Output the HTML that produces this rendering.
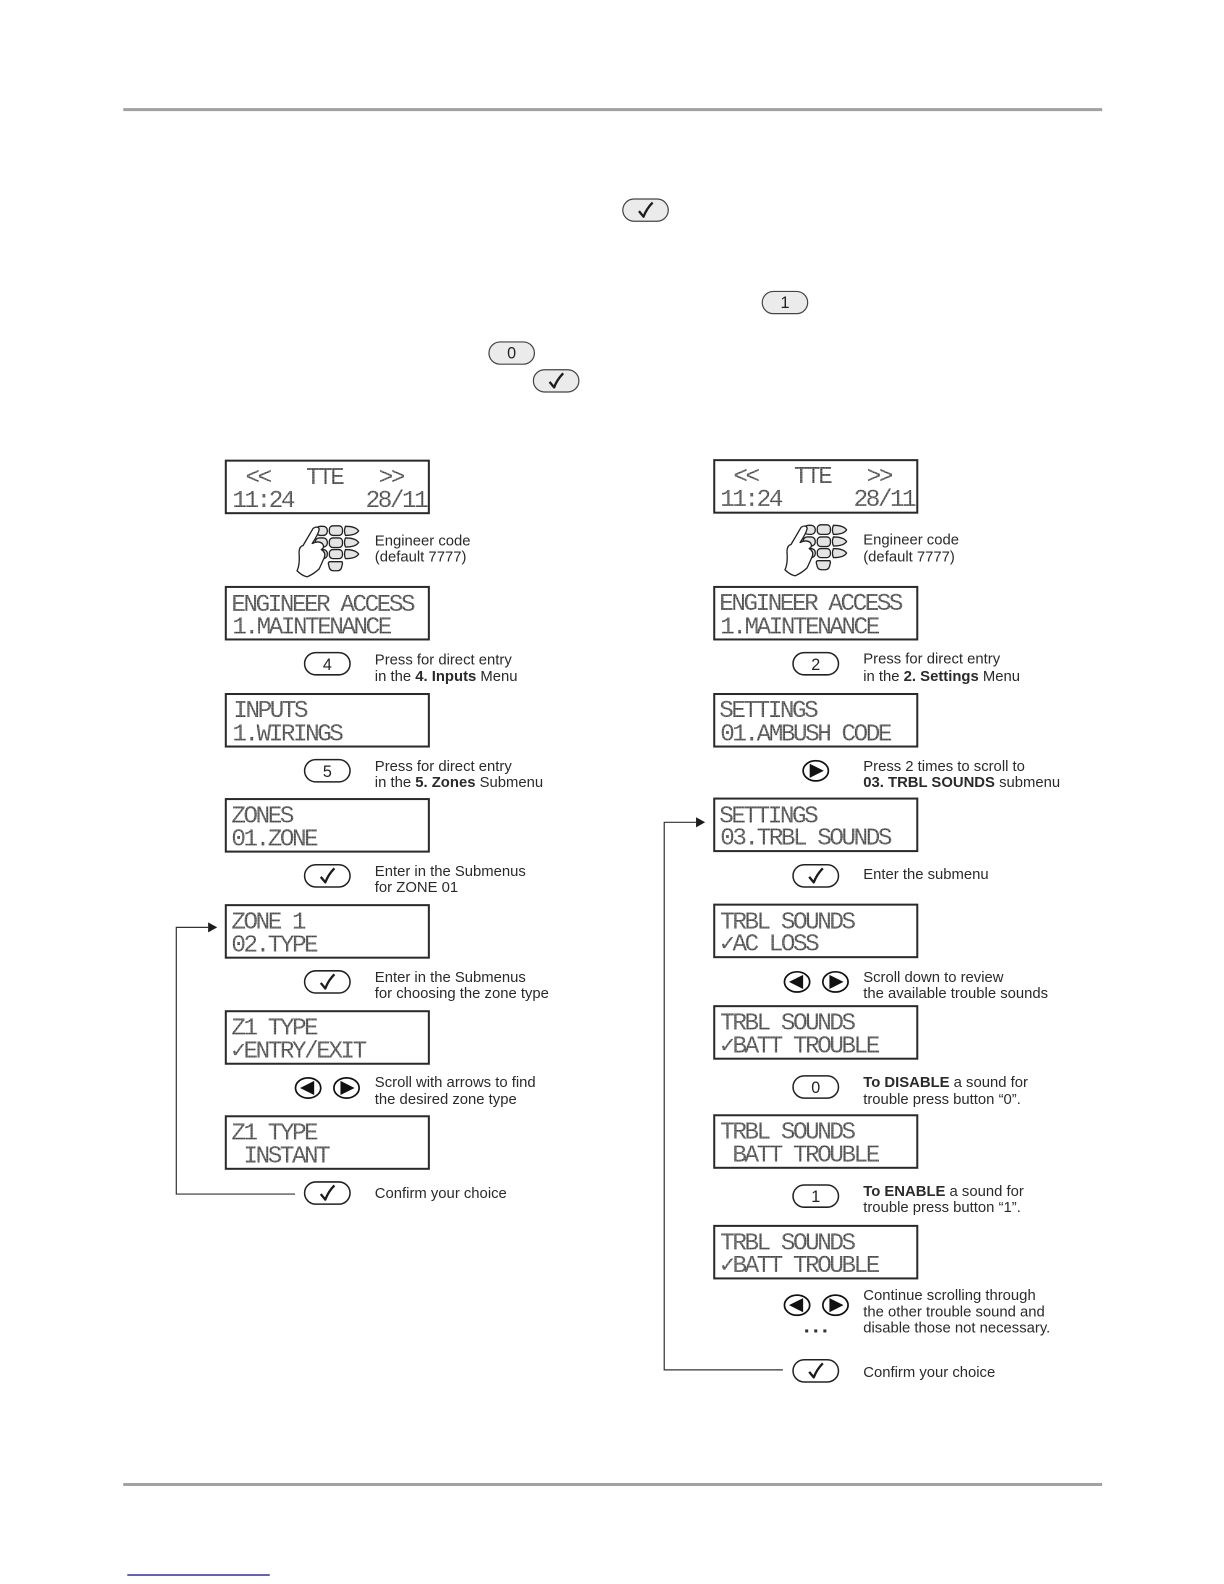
<!DOCTYPE html>
<html><head><meta charset="utf-8"><style>
html,body{margin:0;padding:0;background:#fff}
svg{display:block}
.t{font:14.7px "Liberation Sans",sans-serif;fill:#2a2a2a}
.b{font-weight:bold}
.l{font:24px "Liberation Mono",monospace;letter-spacing:-2.4px;fill:url(#dot);white-space:pre}
.n{font:16px "Liberation Sans",sans-serif;fill:#222;text-anchor:middle}
.box{fill:#fff;stroke:#2a2a2a;stroke-width:2}
.btn{stroke:#222;stroke-width:1.5;fill:#fff}
.g{fill:#ebebeb;stroke:#444;stroke-width:1.2}
</style></head><body>
<svg width="1224" height="1584" viewBox="0 0 1211.6 1568" xmlns="http://www.w3.org/2000/svg">
<defs>
<pattern id="dot" width="1.6" height="1.6" patternUnits="userSpaceOnUse"><rect width="1.6" height="1.6" fill="#8a8a8a"/><rect width="1.1" height="1.1" fill="#333"/></pattern>
<path id="ck" d="M-6.500 1 L-2 6.500 Q1 -1.500 7 -7.500" fill="none" stroke="#1c1c1c" stroke-width="2.300" stroke-linejoin="round"/>
<g id="kc"><rect class="btn" x="-22.500" y="-11" width="45" height="22" rx="11"/><use href="#ck"/></g>
<g id="gc"><rect class="g" x="-22.500" y="-11" width="45" height="22" rx="11"/><use href="#ck"/></g>
<g id="ar"><ellipse cx="0" cy="0" rx="12.500" ry="10" fill="#fff" stroke="#111" stroke-width="1.700"/><path d="M-6 -7 L8 0 L-6 7 Z" fill="#111"/></g>
<g id="al"><ellipse cx="0" cy="0" rx="12.500" ry="10" fill="#fff" stroke="#111" stroke-width="1.700"/><path d="M6 -7 L-8 0 L6 7 Z" fill="#111"/></g>
<g id="pad">
<g fill="#e4e4e4" stroke="#222" stroke-width="1.300">
<rect x="-20" y="-14" width="11" height="9" rx="4"/><rect x="-7" y="-14.500" width="13" height="9.500" rx="3.500"/><path d="M9 -14 q10 0 13 4.500 q-3 4.500 -13 4.500 q-2 -4.500 0 -9 Z"/>
<rect x="-21" y="-2.500" width="12" height="9" rx="4"/><rect x="-7" y="-2.500" width="13" height="9.500" rx="3.500"/><path d="M9 -2.500 q10 0 13 4.500 q-3 4.500 -13 4.500 q-2 -4.500 0 -9 Z"/>
<rect x="-20" y="9" width="11" height="9" rx="4"/><rect x="-7" y="9" width="13" height="9" rx="3.500"/><path d="M9 9 q10 0 13 4.500 q-3 4.500 -13 4.500 q-2 -4.500 0 -9 Z"/>
<path d="M-6 21 h11 q1 0 1 2 l-1 4 q-1 3 -4 3 h-4 q-3 0 -4 -3 l-1 -4 q0 -2 2 -2 Z"/>
</g>
<path d="M-23 -12 Q-18 -15 -17 -11 Q-18 -6 -24 3 Q-18 0 -14 3 Q-11 7 -15 9 Q-10 12 -12 17 L-17 28 Q-22 33 -29 36 Q-34 35 -39 30 Q-36 24 -37 12 Q-37 6 -33 5 Z" fill="#fff" stroke="#222" stroke-width="1.300" stroke-linejoin="round"/>
</g>
<path id="head" d="M0 -5 L9 0 L0 5 Z" fill="#1c1c1c"/>
</defs>
<rect width="1212" height="1568" fill="#fff"/>
<rect x="122" y="107" width="969" height="3" fill="#a2a2a2"/>
<rect x="122" y="1468" width="969" height="3" fill="#a2a2a2"/>
<rect x="126" y="1558.500" width="141" height="1.200" fill="#000080"/>

<use href="#gc" x="639" y="208"/>
<g><rect class="g" x="754.500" y="288.500" width="45" height="22" rx="11"/><text class="n" x="777" y="305">1</text></g>
<g><rect class="g" x="484" y="338.500" width="45" height="22" rx="11"/><text class="n" x="506.500" y="355">0</text></g>
<use href="#gc" x="550.500" y="377"/>

<!-- left column -->
<g>
<rect class="box" x="223.500" y="456" width="201" height="52"/>
<text class="l" x="231" y="479"> &lt;&lt;   TTE   &gt;&gt;</text><text class="l" x="230" y="502">11:24      28/11</text>
<rect class="box" x="223.500" y="581" width="201" height="52"/>
<text class="l" x="229" y="605">ENGINEER ACCESS</text><text class="l" x="230" y="627">1.MAINTENANCE</text>
<rect class="box" x="223.500" y="687" width="201" height="52"/>
<text class="l" x="231" y="710">INPUTS</text><text class="l" x="230" y="733">1.WIRINGS</text>
<rect class="box" x="223.500" y="791" width="201" height="52"/>
<text class="l" x="229" y="814">ZONES</text><text class="l" x="229" y="837">01.ZONE</text>
<rect class="box" x="223.500" y="896" width="201" height="52"/>
<text class="l" x="229" y="919">ZONE 1</text><text class="l" x="229" y="942">02.TYPE</text>
<rect class="box" x="223.500" y="1001" width="201" height="52"/>
<text class="l" x="229" y="1024">Z1 TYPE</text><text class="l" x="229" y="1047">✓ENTRY/EXIT</text>
<rect class="box" x="223.500" y="1105" width="201" height="52"/>
<text class="l" x="229" y="1128">Z1 TYPE</text><text class="l" x="229" y="1151"> INSTANT</text>
</g>
<use href="#pad" x="333" y="535"/>
<g><rect class="btn" x="301.500" y="646" width="45" height="22" rx="11"/><text class="n" x="324" y="663">4</text></g>
<g><rect class="btn" x="301.500" y="752" width="45" height="22" rx="11"/><text class="n" x="324" y="769">5</text></g>
<use href="#kc" x="324" y="867"/>
<use href="#kc" x="324" y="972"/>
<use href="#al" x="305" y="1077"/><use href="#ar" x="343" y="1077"/>
<use href="#kc" x="324" y="1181"/>
<path d="M292 1182 H174.500 V918 H206" fill="none" stroke="#333" stroke-width="1.200"/>
<use href="#head" x="206" y="918"/>

<text class="t" x="371" y="540">Engineer code</text><text class="t" x="371" y="556">(default 7777)</text>
<text class="t" x="371" y="658">Press for direct entry</text><text class="t" x="371" y="674">in the <tspan class="b">4. Inputs</tspan> Menu</text>
<text class="t" x="371" y="763">Press for direct entry</text><text class="t" x="371" y="779">in the <tspan class="b">5. Zones</tspan> Submenu</text>
<text class="t" x="371" y="867">Enter in the Submenus</text><text class="t" x="371" y="883">for ZONE 01</text>
<text class="t" x="371" y="972">Enter in the Submenus</text><text class="t" x="371" y="988">for choosing the zone type</text>
<text class="t" x="371" y="1076">Scroll with arrows to find</text><text class="t" x="371" y="1093">the desired zone type</text>
<text class="t" x="371" y="1186">Confirm your choice</text>

<!-- right column -->
<g>
<rect class="box" x="707" y="455.500" width="201" height="52"/>
<text class="l" x="714" y="478"> &lt;&lt;   TTE   &gt;&gt;</text><text class="l" x="713" y="501">11:24      28/11</text>
<rect class="box" x="707" y="581" width="201" height="52"/>
<text class="l" x="712" y="604">ENGINEER ACCESS</text><text class="l" x="713" y="627">1.MAINTENANCE</text>
<rect class="box" x="707" y="687" width="201" height="52"/>
<text class="l" x="712" y="710">SETTINGS</text><text class="l" x="713" y="733">01.AMBUSH CODE</text>
<rect class="box" x="707" y="790.500" width="201" height="52"/>
<text class="l" x="712" y="814">SETTINGS</text><text class="l" x="713" y="836">03.TRBL SOUNDS</text>
<rect class="box" x="707" y="895.500" width="201" height="52"/>
<text class="l" x="713" y="919">TRBL SOUNDS</text><text class="l" x="713" y="941">✓AC LOSS</text>
<rect class="box" x="707" y="996" width="201" height="52"/>
<text class="l" x="713" y="1019">TRBL SOUNDS</text><text class="l" x="713" y="1042">✓BATT TROUBLE</text>
<rect class="box" x="707" y="1104" width="201" height="52"/>
<text class="l" x="713" y="1127">TRBL SOUNDS</text><text class="l" x="713" y="1150"> BATT TROUBLE</text>
<rect class="box" x="707" y="1213.500" width="201" height="52"/>
<text class="l" x="713" y="1237">TRBL SOUNDS</text><text class="l" x="713" y="1259">✓BATT TROUBLE</text>
</g>
<use href="#pad" x="816" y="534"/>
<g><rect class="btn" x="785" y="646" width="45" height="22" rx="11"/><text class="n" x="807.500" y="663">2</text></g>
<use href="#ar" x="807.500" y="763"/>
<use href="#kc" x="807.500" y="867"/>
<use href="#al" x="789" y="972"/><use href="#ar" x="827" y="972"/>
<g><rect class="btn" x="785" y="1065" width="45" height="22" rx="11"/><text class="n" x="807.500" y="1082">0</text></g>
<g><rect class="btn" x="785" y="1173" width="45" height="22" rx="11"/><text class="n" x="807.500" y="1190">1</text></g>
<use href="#al" x="789" y="1292"/><use href="#ar" x="827" y="1292"/>
<g fill="#333"><rect x="797" y="1316" width="3" height="3"/><rect x="806" y="1316" width="3" height="3"/><rect x="815" y="1316" width="3" height="3"/></g>
<use href="#kc" x="807.500" y="1357"/>
<path d="M775 1356 H657.500 V814 H689" fill="none" stroke="#333" stroke-width="1.200"/>
<use href="#head" x="689" y="814"/>

<text class="t" x="854.500" y="539">Engineer code</text><text class="t" x="854.500" y="556">(default 7777)</text>
<text class="t" x="854.500" y="657">Press for direct entry</text><text class="t" x="854.500" y="674">in the <tspan class="b">2. Settings</tspan> Menu</text>
<text class="t" x="854.500" y="763">Press 2 times to scroll to</text><text class="t" x="854.500" y="779"><tspan class="b">03. TRBL SOUNDS</tspan> submenu</text>
<text class="t" x="854.500" y="870">Enter the submenu</text>
<text class="t" x="854.500" y="972">Scroll down to review</text><text class="t" x="854.500" y="988">the available trouble sounds</text>
<text class="t" x="854.500" y="1076"><tspan class="b">To DISABLE</tspan> a sound for</text><text class="t" x="854.500" y="1093">trouble press button “0”.</text>
<text class="t" x="854.500" y="1184"><tspan class="b">To ENABLE</tspan> a sound for</text><text class="t" x="854.500" y="1200">trouble press button “1”.</text>
<text class="t" x="854.500" y="1287">Continue scrolling through</text><text class="t" x="854.500" y="1303">the other trouble sound and</text><text class="t" x="854.500" y="1319">disable those not necessary.</text>
<text class="t" x="854.500" y="1363">Confirm your choice</text>
</svg>
</body></html>
